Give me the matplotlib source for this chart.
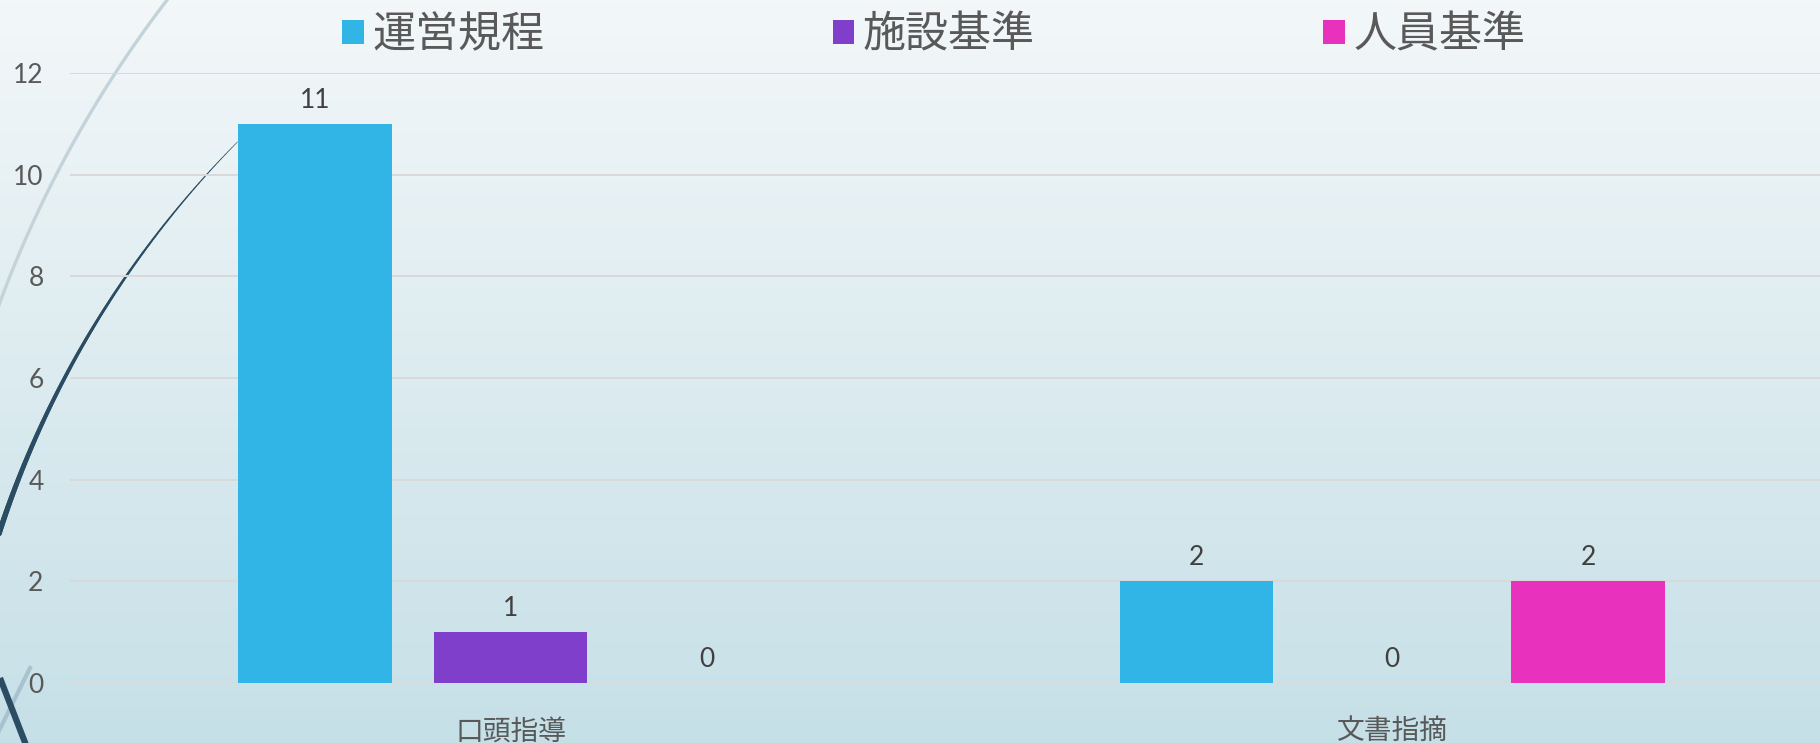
import matplotlib
matplotlib.use("Agg")
import matplotlib.pyplot as plt
import numpy as np
from matplotlib.collections import LineCollection

plt.rcParams['font.family'] = ['Lato', 'Noto Sans CJK JP', 'DejaVu Sans']

# data
categories = ['口頭指導', '文書指摘']
series_names = ['運営規程', '施設基準', '人員基準']
values = {
    '運営規程': [11, 2],
    '施設基準': [1, 0],
    '人員基準': [0, 2],
}
colors = ['#31b5e6', '#7f3fcb', '#e832bd']
yticks = [0, 2, 4, 6, 8, 10, 12]

W, H = 1820, 743
fig = plt.figure(figsize=(W / 100, H / 100), dpi=100)

# background gradient + decorative arcs (pixel coords)
bg = fig.add_axes([0, 0, 1, 1], zorder=0)
top = np.array([0.953, 0.969, 0.976])
bot = np.array([0.776, 0.878, 0.906])
t = np.linspace(0, 1, 256)[:, None]
grad = top * (1 - t) + bot * t
bg.imshow(grad[:, None, :], aspect='auto', extent=[0, W, H, 0])
bg.set_xlim(0, W)
bg.set_ylim(H, 0)
bg.axis('off')

# light arc
ang = np.radians(np.linspace(192, 222, 200))
cx, cy, r = 1082.7, 703.5, 1154.7
bg.plot(cx + r * np.cos(ang), cy + r * np.sin(ang), color='#c4d3da', lw=2.4)

# dark arc, tapering
ang = np.radians(np.linspace(190, 224.7, 300))
cx, cy, r = 943, 840, 992.5
xs, ys = cx + r * np.cos(ang), cy + r * np.sin(ang)
pts = np.column_stack([xs, ys]).reshape(-1, 1, 2)
segs = np.concatenate([pts[:-1], pts[1:]], axis=1)
widths = np.linspace(5.0, 0.4, len(segs))
bg.add_collection(LineCollection(segs, linewidths=widths, colors='#2b4d63', capstyle='round'))

# bottom piece
bg.plot([-8, 30], [745, 668], color='#a8c3cf', lw=3)
bg.plot([0, 26], [678, 745], color='#2b4d63', lw=4.5, solid_capstyle='butt')

# main chart
x0, x1 = 70, 1833
y0, y1 = 683, 73
ax = fig.add_axes([x0 / W, (H - y0) / H, (x1 - x0) / W, (y0 - y1) / H], zorder=1)
ax.patch.set_alpha(0)

x = np.arange(len(categories))
step = 0.222
bw = 0.174
bars = []
for i, name in enumerate(series_names):
    b = ax.bar(x + (i - 1) * step, values[name], width=bw, color=colors[i],
               label=name, zorder=3)
    bars.append(b)
    ax.bar_label(b, padding=8, fontsize=19, color='#404040')

ax.set_xlim(-0.5, 1.5)
ax.set_ylim(0, 12)
ax.set_yticks(yticks)
ax.grid(axis='y', color='#d9d9d9', lw=1.4, zorder=0)
ax.set_axisbelow(True)
for s in ax.spines.values():
    s.set_visible(False)
ax.tick_params(axis='y', length=0, pad=19, labelsize=19, labelcolor='#595959')
ax.set_xticks(x)
ax.set_xticklabels(categories, family=['Noto Sans CJK JP', 'DejaVu Sans'])
ax.tick_params(axis='x', length=0, pad=24, labelsize=20, labelcolor='#595959')

fig.legend(handles=bars, labels=series_names, loc='center',
           bbox_to_anchor=(0.513, 1 - 35.5 / H), ncol=3, frameon=False,
           handlelength=0.5, handleheight=0.5, handletextpad=0.2,
           columnspacing=6.7, labelcolor='#595959',
           prop={'family': ['Noto Sans CJK JP', 'DejaVu Sans'], 'size': 31})

fig.savefig('out.png', dpi=100)
